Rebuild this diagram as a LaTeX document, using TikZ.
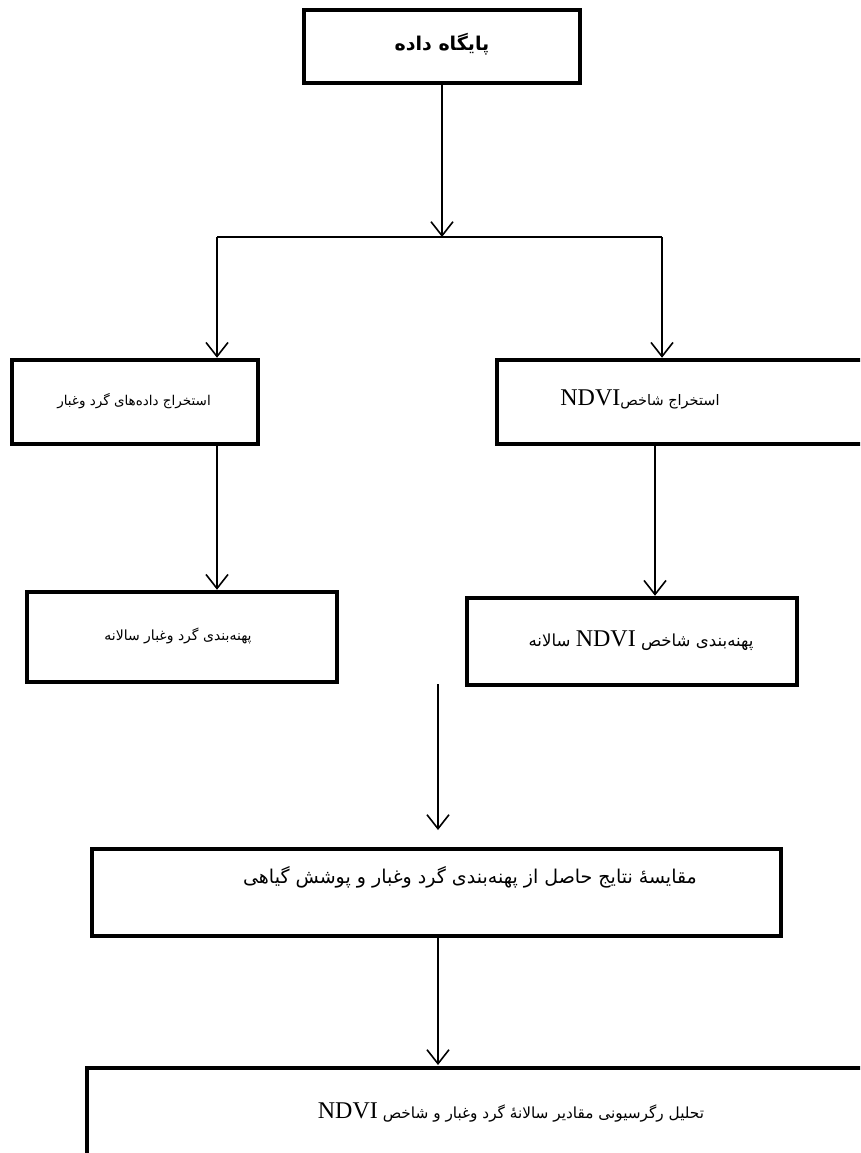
\documentclass[tikz,border=0pt]{standalone}
\usepackage{fontspec}
\setmainfont{Liberation Serif}
\newfontfamily\fa[Script=Arabic]{DejaVu Sans}
\newfontfamily\lat{Liberation Serif}
\TeXXeTstate=1
\usetikzlibrary{arrows.meta}
\tikzset{
  box/.style={draw,line width=4.5pt,inner sep=0pt},
  txt/.style={inner sep=0pt,font=\fa\fontsize{13}{16}\selectfont},
  conn/.style={line width=1.6pt},
  arr/.style={conn,-{Straight Barb[length=14pt,width=22pt]}}
}
\newcommand{\fs}[1]{\fontsize{#1}{#1}\selectfont}
\newcommand{\ndvi}{\beginL{\lat\fs{24}NDVI}\endL}
\begin{document}
\begin{tikzpicture}[x=1pt,y=-1pt]
\clip (0,0) rectangle (860,1153);
\fill[white] (0,0) rectangle (860,1153);
% boxes
\node[box,minimum width=276pt,minimum height=73pt] (top) at (442,46.5) {};
\node[box,minimum width=246pt,minimum height=84pt] (b2l) at (135,402) {};
\node[box,minimum width=372pt,minimum height=84pt] (b2r) at (683,402) {};
\node[box,minimum width=310pt,minimum height=90pt] (b3l) at (182,637) {};
\node[box,minimum width=330pt,minimum height=87pt] (b3r) at (632,641.5) {};
\node[box,minimum width=689pt,minimum height=87pt] (b4) at (436.5,892.5) {};
\node[box,minimum width=790pt,minimum height=95pt] (b5) at (482,1115.5) {};
% texts
\node[txt,font=\fa\bfseries\fs{19}] (t1) at (442,44) {\beginR پایگاه داده\endR};
\node[txt,font=\fa\fs{13.5}] (t2l) at (134,401) {\beginR استخراج داده‌های گرد وغبار\endR};
\node[txt,font=\fa\fs{14.5}] (t2r) at (640,399) {\beginR استخراج شاخص\ndvi\endR};
\node[txt,font=\fa\fs{14}] (t3l) at (178,636) {\beginR پهنه‌بندی گرد وغبار سالانه\endR};
\node[txt,font=\fa\fs{16.6}] (t3r) at (641,641) {\beginR پهنه‌بندی شاخص \ndvi{} سالانه\endR};
\node[txt,font=\fa\fs{19}] (t4) at (470,877) {\beginR مقایسهٔ نتایج حاصل از پهنه‌بندی گرد وغبار و پوشش گیاهی\endR};
\node[txt,font=\fa\fs{15.3}] (t5) at (511,1112) {\beginR تحلیل رگرسیونی مقادیر سالانهٔ گرد وغبار و شاخص \ndvi\endR};
% connector coordinates
\coordinate (j) at (top.south |- 0,237);
\coordinate (hl) at (217,237);
\coordinate (hr) at (662,237);
\coordinate (m1) at (438,684);
\coordinate (m2) at (438,830);
% connectors
\draw[arr] (top.south) -- (j);
\draw[line width=1.3pt] (hl) -- (hr);
\draw[arr] (hl) -- (hl |- b2l.north);
\draw[arr] (hr) -- (hr |- b2r.north);
\draw[arr] (217,0 |- b2l.south) -- (217,0 |- b3l.north);
\draw[arr] (655,0 |- b2r.south) -- (655,0 |- b3r.north);
\draw[arr] (m1) -- (m2);
\draw[arr] (438,0 |- b4.south) -- (438,1065);
\end{tikzpicture}
\end{document}
